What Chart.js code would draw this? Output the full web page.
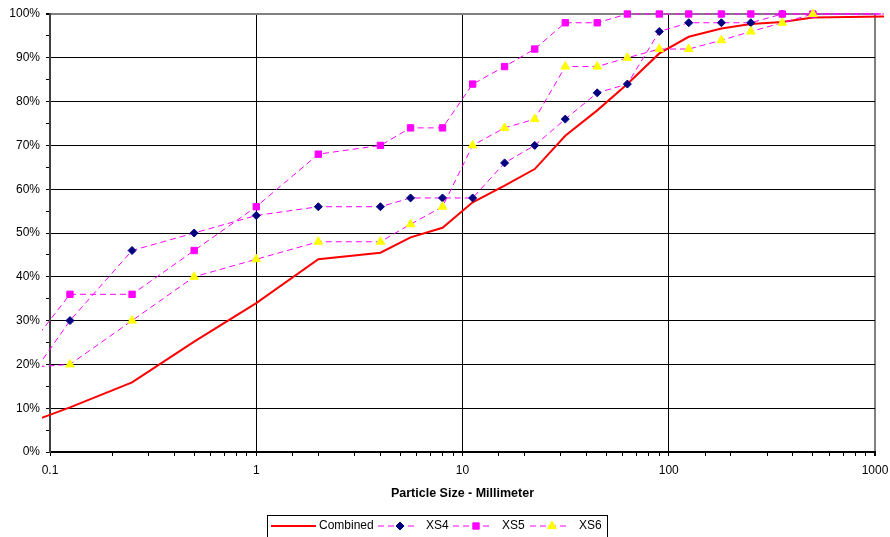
<!DOCTYPE html>
<html>
<head>
<meta charset="utf-8">
<script src="https://cdn.jsdelivr.net/npm/chart.js@4"></script>
<style>
  body { margin: 0; background: #fff; }
  #wrap { width: 890px; height: 537px; }
</style>
</head>
<body>
<div id="wrap"><canvas id="psd"></canvas></div>
<script>
// sieve sizes in mm (first and last lie just outside the plotted range)
const sizes = [0.063, 0.125, 0.25, 0.5, 1, 2, 4, 5.6, 8, 11.2, 16, 22.4, 31.5, 45, 63, 90, 125, 180, 250, 355, 500, 1400];
const seriesNames = ['Combined', 'XS4', 'XS5', 'XS6'];
const combined = [5, 10.2, 15.9, 25.2, 34, 44, 45.5, 49, 51.2, 57, 60.8, 64.6, 72.2, 78, 84, 91, 94.8, 96.7, 97.7, 98.2, 99.2, 99.5];
const xs4 = [10, 30, 46, 50, 54, 56, 56, 58, 58, 58, 66, 70, 76, 82, 84, 96, 98, 98, 98, 100, 100, 100];
const xs5 = [18, 36, 36, 46, 56, 68, 70, 74, 74, 84, 88, 92, 98, 98, 100, 100, 100, 100, 100, 100, 100, 100];
const xs6 = [19, 20, 30, 40, 44, 48, 48, 52, 56, 70, 74, 76, 88, 88, 90, 92, 92, 94, 96, 98, 100, 100];
const xTickLabels = ['0.1', '1', '10', '100', '1000'];

Chart.defaults.font.family = '"Liberation Sans", Arial, sans-serif';
Chart.defaults.font.size = 12;
Chart.defaults.color = '#000';

function pts(vals) {
  return vals.map((v, i) => ({ x: sizes[i], y: v }));
}

const lineClip = { left: 8, top: 8, right: 9, bottom: 0 };

function dashed(label, vals, style, color, radius, order) {
  return {
    label: label,
    data: pts(vals),
    borderColor: '#FF00FF',
    borderWidth: 1,
    borderDash: [6, 4],
    pointStyle: style,
    pointRadius: radius,
    pointBackgroundColor: color,
    pointBorderColor: color,
    pointBorderWidth: 1,
    clip: lineClip,
    order: order
  };
}

const datasets = [
  {
    label: seriesNames[0],
    data: pts(combined),
    borderColor: '#FF0000',
    borderWidth: 2,
    pointRadius: 0,
    clip: lineClip,
    order: 4
  },
  dashed(seriesNames[1], xs4, 'rectRot', '#000080', 4, 3),
  dashed(seriesNames[2], xs5, 'rect', '#FF00FF', 4.5, 2),
  dashed(seriesNames[3], xs6, 'triangle', '#FFFF00', 5, 1)
];

function isDecade(v) {
  const e = Math.log10(v);
  return Math.abs(e - Math.round(e)) < 1e-6;
}

// boxed legend under the axis title, like the original
const boxLegend = {
  id: 'boxLegend',
  afterDraw(chart) {
    const ctx = chart.ctx;
    ctx.save();
    ctx.strokeStyle = '#000';
    ctx.lineWidth = 1;
    ctx.strokeRect(267.5, 515.5, 340, 30);
    ctx.font = '12px "Liberation Sans", Arial, sans-serif';
    ctx.textBaseline = 'middle';
    ctx.fillStyle = '#000';
    const y = 526;
    const items = [
      { line: [271, 316], text: 319 },
      { line: [378, 417], mark: 400, text: 426 },
      { line: [453, 492], mark: 476, text: 502 },
      { line: [530, 569], mark: 552, text: 579 }
    ];
    items.forEach((it, i) => {
      const ds = chart.data.datasets[i];
      ctx.save();
      ctx.strokeStyle = ds.borderColor;
      ctx.lineWidth = ds.borderWidth;
      ctx.setLineDash(ds.borderDash || []);
      ctx.beginPath();
      ctx.moveTo(it.line[0], y);
      ctx.lineTo(it.line[1], y);
      ctx.stroke();
      ctx.restore();
      if (it.mark) {
        ctx.save();
        ctx.fillStyle = ds.pointBackgroundColor;
        ctx.strokeStyle = ds.pointBorderColor;
        Chart.helpers.drawPoint(ctx, {
          pointStyle: ds.pointStyle, radius: ds.pointRadius, rotation: 0, borderWidth: 1
        }, it.mark, y);
        ctx.restore();
      }
      ctx.fillStyle = '#000';
      ctx.fillText(ds.label, it.text, y);
    });
    ctx.restore();
  }
};

new Chart(document.getElementById('psd'), {
  type: 'line',
  data: { datasets: datasets },
  options: {
    responsive: true,
    maintainAspectRatio: false,
    animation: false,
    layout: { padding: { left: 0, right: 15, top: 14, bottom: 0 } },
    plugins: {
      legend: { display: false },
      tooltip: { enabled: false }
    },
    elements: { line: { tension: 0 } },
    scales: {
      x: {
        type: 'logarithmic',
        position: 'bottom',
        min: 0.1,
        max: 1000,
        afterFit: (scale) => {
          scale.height = 85;
          scale.paddingLeft = 0;
          scale.paddingRight = 0;
        },
        border: { color: '#000', width: 2 },
        grid: {
          color: (c) => {
            if (!c.tick || !isDecade(c.tick.value)) return 'rgba(0,0,0,0)';
            return c.tick.value >= 1000 ? '#808080' : '#000';
          },
          lineWidth: (c) => (c.tick && c.tick.value >= 1000 ? 2 : 1),
          tickColor: '#000',
          tickLength: 4
        },
        ticks: {
          autoSkip: false,
          maxRotation: 0,
          padding: 7,
          font: { size: 12 },
          callback: (v) => {
            if (!isDecade(v)) return '';
            const idx = Math.round(Math.log10(v)) + 1;
            return xTickLabels[idx];
          }
        },
        title: {
          display: true,
          text: 'Particle Size - Millimeter',
          font: { size: 12.5, weight: 'bold' },
          padding: { top: 4, bottom: 35.5 }
        }
      },
      y: {
        min: 0,
        max: 100,
        afterFit: (scale) => {
          scale.width = 50;
          scale.paddingTop = 0;
          scale.paddingBottom = 0;
        },
        border: { color: '#404040', width: 2 },
        grid: {
          color: (c) => {
            if (!c.tick || c.tick.value % 10 !== 0) return 'rgba(0,0,0,0)';
            return c.tick.value === 100 ? '#808080' : '#000';
          },
          lineWidth: (c) => (c.tick && c.tick.value === 100 ? 2 : 1),
          tickColor: '#000',
          tickLength: 4
        },
        ticks: {
          stepSize: 5,
          autoSkip: false,
          padding: 6,
          font: { size: 12 },
          callback: (v) => (v % 10 === 0 ? v + '%' : '')
        }
      }
    }
  },
  plugins: [boxLegend]
});
</script>
</body>
</html>
